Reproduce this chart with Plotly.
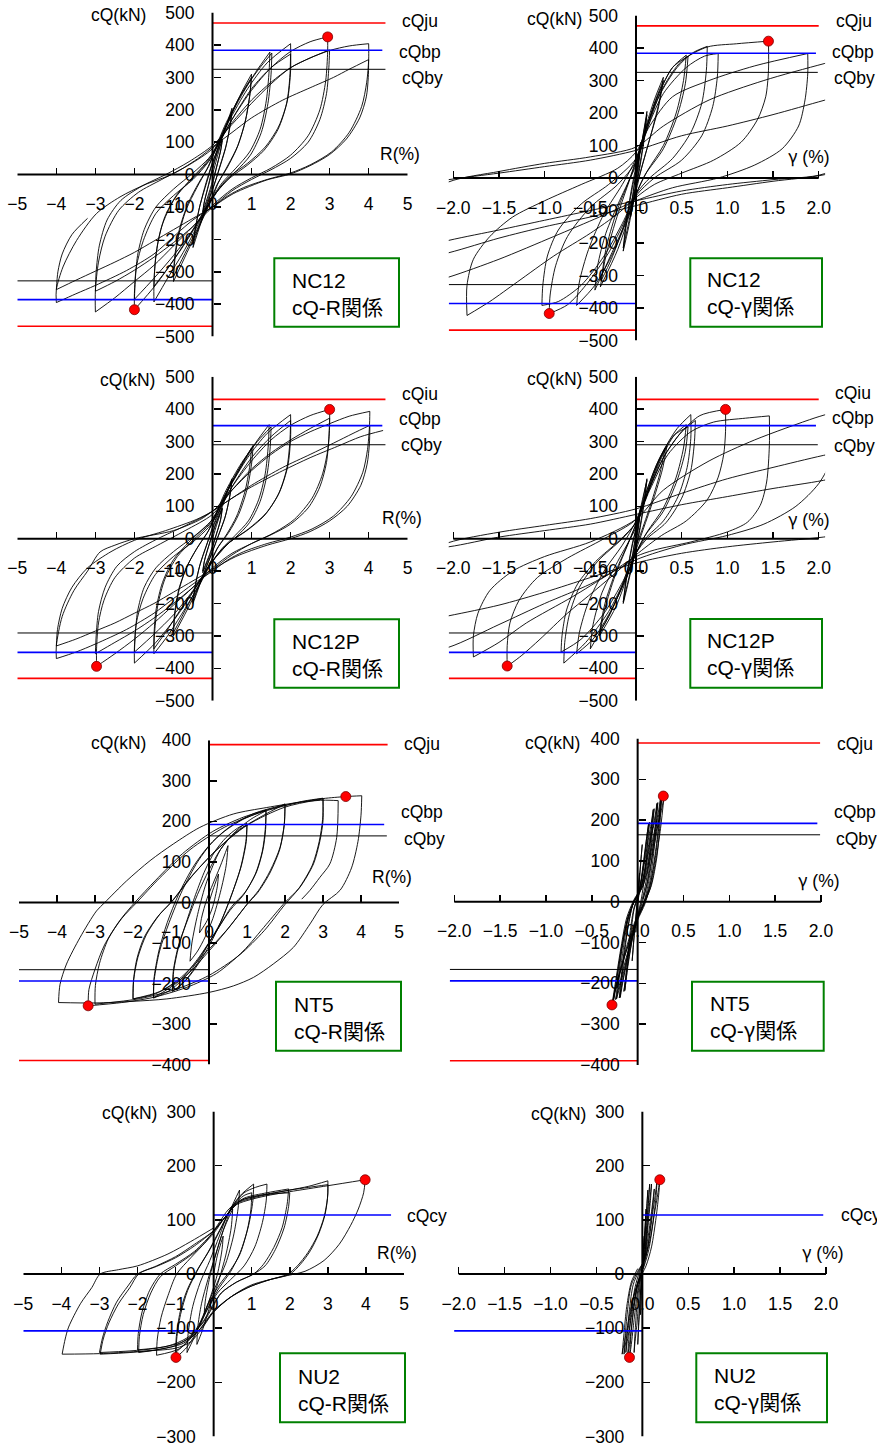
import plotly.graph_objects as go

W, H = 877, 1447

# ----------------------------------------------------------------- data
# Hysteresis histories: list of branches, each branch a list of (x, cQ) points.

NC12_R_CURVE = [
    [(0, 0), (0.1, 45), (0.25, 110)],
    [(0.25, 110), (0.22, 80), (0.1, 20), (0, -30), (-0.1, -70), (-0.25, -120)],
    [(-0.25, -120), (-0.22, -90), (-0.1, -30), (0, 20), (0.1, 60), (0.25, 105)],
    [(0.25, 105), (0.2, 70), (0.05, 0), (-0.1, -60), (-0.25, -115)],
    [(-0.25, -115), (-0.2, -80), (-0.05, -10), (0.05, 40), (0.2, 100), (0.35, 150), (0.5, 205)],
    [(0.5, 205), (0.46, 160), (0.35, 90), (0.2, 30), (0.05, -30), (-0.1, -80), (-0.3, -150), (-0.5, -225)],
    [(-0.5, -225), (-0.45, -180), (-0.35, -110), (-0.2, -40), (-0.05, 20), (0.1, 70), (0.3, 135), (0.5, 195)],
    [(0.5, 195), (0.45, 150), (0.33, 80), (0.18, 20), (0.03, -35), (-0.15, -95), (-0.33, -155), (-0.5, -215)],
    [(-0.5, -215), (-0.44, -165), (-0.32, -95), (-0.15, -25), (0, 35), (0.2, 100), (0.5, 190), (0.75, 255), (1.0, 310)],
    [(1.0, 310), (0.96, 250), (0.85, 170), (0.65, 90), (0.4, 30), (0.15, -25), (0, -70), (-0.3, -150), (-0.65, -240), (-1.0, -330)],
    [(-1.0, -330), (-0.97, -270), (-0.87, -190), (-0.68, -110), (-0.4, -40), (-0.15, 15), (0, 55), (0.3, 140), (0.65, 230), (1.0, 300)],
    [(1.0, 300), (0.95, 240), (0.83, 160), (0.62, 80), (0.37, 20), (0.12, -30), (0, -65), (-0.3, -145), (-0.65, -230), (-1.0, -315)],
    [(-1.0, -315), (-0.97, -255), (-0.85, -170), (-0.63, -90), (-0.35, -25), (-0.1, 25), (0, 55), (0.3, 140), (0.7, 235), (1.1, 315), (1.47, 378)],
    [(1.47, 378), (1.45, 320), (1.38, 230), (1.22, 140), (0.95, 70), (0.6, 20), (0.25, -25), (0, -70), (-0.35, -150), (-0.75, -240), (-1.15, -320), (-1.5, -393)],
    [(-1.5, -393), (-1.5, -340), (-1.45, -250), (-1.3, -160), (-1.0, -80), (-0.6, -20), (-0.25, 25), (0, 65), (0.35, 160), (0.75, 250), (1.15, 320), (1.52, 375)],
    [(1.52, 375), (1.5, 310), (1.42, 220), (1.25, 130), (0.97, 60), (0.6, 10), (0.25, -30), (0, -75), (-0.4, -155), (-0.8, -230), (-1.15, -290), (-1.5, -345)],
    [(-1.5, -345), (-1.48, -290), (-1.4, -210), (-1.22, -130), (-0.9, -60), (-0.5, -10), (-0.15, 35), (0, 60), (0.4, 160), (0.9, 265), (1.4, 345), (2.0, 404)],
    [(2.0, 404), (2.0, 320), (1.92, 230), (1.7, 150), (1.35, 85), (0.9, 35), (0.45, -5), (0.1, -55), (-0.1, -90), (-0.5, -170), (-0.95, -255), (-1.45, -340), (-2.0, -417)],
    [(-2.0, -417), (-2.0, -367), (-1.95, -285), (-1.77, -203), (-1.45, -120), (-1.0, -65), (-0.5, -15), (-0.1, 40), (0.1, 80), (0.5, 170), (1.0, 265), (1.5, 330), (2.0, 372)],
    [(2.0, 372), (1.98, 300), (1.9, 220), (1.68, 140), (1.32, 75), (0.88, 28), (0.45, -10), (0.1, -55), (-0.1, -90), (-0.5, -170), (-1.0, -250), (-1.5, -320), (-2.0, -385)],
    [(-2.0, -385), (-1.98, -330), (-1.92, -250), (-1.75, -170), (-1.45, -100), (-1.0, -45), (-0.5, 5), (-0.1, 50), (0.1, 85), (0.5, 170), (1.0, 260), (1.5, 330), (2.0, 380), (2.5, 410), (2.95, 425)],
    [(2.95, 425), (2.95, 380), (2.9, 290), (2.75, 200), (2.45, 120), (2.0, 60), (1.5, 20), (1.0, -10), (0.5, -45), (0, -95), (-0.5, -160), (-1.0, -220), (-1.5, -280), (-2.0, -330), (-2.5, -380), (-3.0, -424)],
    [(-3.0, -424), (-3.0, -360), (-2.92, -270), (-2.75, -190), (-2.4, -110), (-1.9, -55), (-1.3, -15), (-0.6, 30), (0, 80), (0.5, 160), (1.0, 230), (1.5, 285), (2.0, 330), (2.5, 360), (3.0, 385)],
    [(3.0, 385), (2.98, 330), (2.92, 250), (2.75, 170), (2.45, 100), (2.0, 50), (1.5, 15), (1.0, -15), (0.5, -50), (0, -100), (-0.5, -160), (-1.0, -210), (-1.5, -255), (-2.0, -295), (-2.5, -330), (-3.0, -360)],
    [(-3.0, -360), (-2.98, -300), (-2.9, -220), (-2.7, -140), (-2.35, -80), (-1.8, -35), (-1.2, 0), (-0.6, 40), (0, 90), (0.5, 155), (1.0, 220), (1.5, 280), (2.0, 330), (2.5, 360), (3.0, 383), (3.5, 397), (4.0, 404)],
    [(4.0, 404), (4.0, 355), (3.95, 285), (3.82, 210), (3.5, 130), (3.05, 70), (2.5, 30), (2.0, 5), (1.4, -15), (0.8, -40), (0.4, -65), (0, -100), (-0.5, -140), (-0.92, -183), (-1.5, -245), (-2.2, -296), (-3.0, -342), (-3.5, -368), (-4.0, -395)],
    [(-4.0, -395), (-4.0, -355), (-3.83, -285), (-3.48, -203), (-2.97, -120), (-2.37, -69), (-1.77, -33), (-1.0, 3), (-0.32, 54), (0, 85), (0.5, 130), (1.0, 175), (1.8, 230), (2.5, 268), (3.1, 300), (3.5, 325), (4.0, 355)],
    [(4.0, 355), (3.99, 300), (3.94, 240), (3.77, 175), (3.43, 110), (3.0, 62), (2.49, 27), (2.0, 2), (1.38, -17), (0.53, -59), (0, -100), (-0.5, -135), (-1.0, -170), (-1.5, -205), (-2.0, -240), (-2.5, -270), (-3.0, -298), (-3.5, -326), (-4.0, -355)],
    [(-4.0, -355), (-3.96, -300), (-3.85, -245), (-3.6, -185), (-3.2, -135)],
]

NC12_G_CURVE = [
    [(0, 0), (0.03, 60), (0.05, 110)],
    [(0.05, 110), (0.03, 40), (0, -30), (-0.03, -80), (-0.06, -120)],
    [(-0.06, -120), (-0.03, -50), (0, 20), (0.03, 70), (0.05, 105)],
    [(0.05, 105), (0.02, 30), (-0.02, -50), (-0.06, -115)],
    [(-0.06, -115), (-0.03, -40), (0.02, 40), (0.07, 120), (0.12, 205)],
    [(0.12, 205), (0.09, 120), (0.04, 30), (-0.02, -60), (-0.08, -150), (-0.14, -225)],
    [(-0.14, -225), (-0.1, -130), (-0.04, -30), (0.02, 50), (0.07, 120), (0.12, 195)],
    [(0.12, 195), (0.08, 110), (0.03, 20), (-0.03, -70), (-0.09, -150), (-0.14, -215)],
    [(-0.14, -215), (-0.1, -120), (-0.04, -20), (0.02, 60), (0.1, 150), (0.2, 240), (0.3, 310)],
    [(0.3, 310), (0.25, 230), (0.16, 130), (0.06, 30), (0, -40), (-0.08, -120), (-0.2, -220), (-0.39, -335)],
    [(-0.39, -335), (-0.33, -240), (-0.22, -130), (-0.1, -30), (0, 50), (0.1, 140), (0.2, 230), (0.3, 300)],
    [(0.3, 300), (0.24, 210), (0.14, 110), (0.04, 10), (-0.05, -70), (-0.15, -160), (-0.27, -250), (-0.38, -315)],
    [(-0.38, -315), (-0.33, -220), (-0.22, -110), (-0.08, -10), (0.02, 70), (0.12, 160), (0.25, 260), (0.4, 340), (0.55, 378)],
    [(0.55, 378), (0.52, 300), (0.44, 200), (0.3, 100), (0.12, 20), (0, -50), (-0.1, -130), (-0.25, -230), (-0.45, -330), (-0.65, -392)],
    [(-0.65, -392), (-0.62, -320), (-0.52, -220), (-0.35, -110), (-0.15, -20), (0, 60), (0.12, 160), (0.25, 260), (0.4, 340), (0.57, 375)],
    [(0.57, 375), (0.54, 290), (0.45, 190), (0.3, 90), (0.1, 10), (0, -50), (-0.12, -140), (-0.28, -240), (-0.45, -345)],
    [(-0.45, -345), (-0.42, -270), (-0.33, -170), (-0.18, -70), (0, 40), (0.1, 130), (0.25, 250), (0.45, 340), (0.62, 385), (0.78, 405)],
    [(0.78, 405), (0.77, 330), (0.72, 230), (0.6, 140), (0.4, 60), (0.15, 0), (0, -50), (-0.12, -130), (-0.3, -230), (-0.55, -330), (-0.75, -390), (-0.95, -417)],
    [(-0.95, -417), (-0.94, -360), (-0.88, -270), (-0.75, -180), (-0.5, -90), (-0.2, -20), (0, 50), (0.12, 150), (0.3, 260), (0.55, 340), (0.75, 375), (0.9, 383)],
    [(0.9, 383), (0.89, 310), (0.84, 220), (0.72, 130), (0.5, 55), (0.2, 0), (0, -55), (-0.15, -140), (-0.35, -240), (-0.6, -330), (-0.85, -380), (-1.03, -392)],
    [(-1.03, -392), (-1.02, -330), (-0.97, -240), (-0.85, -160), (-0.6, -80), (-0.3, -20), (0, 60), (0.12, 160), (0.3, 280), (0.5, 360), (0.78, 403), (1.1, 413), (1.45, 421)],
    [(1.45, 421), (1.45, 330), (1.42, 250), (1.33, 180), (1.15, 110), (0.85, 55), (0.5, 15), (0.2, -20), (0, -60), (-0.2, -110), (-0.5, -170), (-0.9, -240), (-1.3, -320), (-1.6, -380), (-1.85, -423)],
    [(-1.85, -423), (-1.85, -330), (-1.78, -250), (-1.6, -180), (-1.35, -120), (-1.0, -70), (-0.6, -20), (-0.2, 30), (0, 80), (0.15, 160), (0.4, 250), (0.8, 300), (1.3, 345), (1.88, 383)],
    [(1.88, 383), (1.88, 320), (1.85, 240), (1.78, 160), (1.6, 90), (1.3, 40), (0.9, 0), (0.4, -30), (0, -70), (-0.4, -120), (-0.9, -180), (-1.5, -250), (-2.05, -305), (-2.5, -340), (-3.0, -360)],
    [(-3.0, -360), (-2.95, -280), (-2.8, -190), (-2.5, -90), (-2.05, -12), (-1.5, 20), (-1.0, 45), (-0.5, 65), (0, 95), (0.3, 160), (0.8, 240), (1.4, 300), (2.06, 352), (2.6, 390), (3.2, 404)],
    [(3.2, 404), (3.18, 330), (3.1, 250), (2.9, 170), (2.5, 90), (2.06, 13), (1.5, -5), (1.0, -20), (0.5, -40), (0, -70), (-0.5, -100), (-1.0, -130), (-1.5, -160), (-2.05, -192), (-3.0, -260), (-4.0, -330), (-4.4, -395)],
    [(-4.4, -395), (-4.35, -300), (-4.1, -200), (-3.6, -110), (-2.9, -40), (-2.05, -5), (-1.5, 15), (-1.0, 35), (-0.5, 55), (0, 85), (0.5, 130), (1.0, 160), (1.5, 195), (2.06, 239), (2.6, 280), (3.4, 355)],
    [(3.4, 355), (3.38, 280), (3.3, 200), (3.0, 120), (2.5, 50), (2.06, 10), (1.5, -10), (1.0, -30), (0.5, -50), (0, -85), (-0.5, -120), (-1.0, -150), (-1.5, -185), (-2.05, -230), (-3.0, -290), (-4.5, -355)],
]

NC12P_R_CURVE = [
    [(0, 0), (0.1, 40), (0.25, 95)],
    [(0.25, 95), (0.21, 60), (0.08, 5), (-0.05, -45), (-0.25, -105)],
    [(-0.25, -105), (-0.21, -70), (-0.08, -15), (0.05, 35), (0.25, 92)],
    [(0.25, 92), (0.2, 55), (0.06, 0), (-0.08, -50), (-0.25, -100)],
    [(-0.25, -100), (-0.2, -65), (-0.05, -5), (0.1, 50), (0.3, 115), (0.5, 185)],
    [(0.5, 185), (0.45, 135), (0.33, 70), (0.17, 15), (0.0, -40), (-0.2, -100), (-0.35, -150), (-0.5, -200)],
    [(-0.5, -200), (-0.45, -150), (-0.33, -85), (-0.17, -25), (0, 30), (0.2, 90), (0.35, 140), (0.5, 180)],
    [(0.5, 180), (0.44, 130), (0.32, 65), (0.15, 10), (-0.02, -45), (-0.2, -100), (-0.35, -145), (-0.5, -195)],
    [(-0.5, -195), (-0.44, -145), (-0.32, -80), (-0.15, -20), (0, 35), (0.25, 110), (0.5, 175), (0.8, 240), (1.04, 288)],
    [(1.04, 288), (1.0, 230), (0.88, 150), (0.67, 75), (0.42, 20), (0.15, -25), (0, -60), (-0.3, -135), (-0.65, -220), (-1.0, -300)],
    [(-1.0, -300), (-0.97, -240), (-0.87, -165), (-0.67, -90), (-0.4, -30), (-0.15, 15), (0, 50), (0.3, 130), (0.65, 210), (1.0, 280)],
    [(1.0, 280), (0.95, 220), (0.83, 145), (0.62, 70), (0.37, 15), (0.12, -30), (0, -60), (-0.3, -130), (-0.65, -210), (-1.0, -290)],
    [(-1.0, -290), (-0.97, -230), (-0.85, -150), (-0.63, -80), (-0.35, -20), (-0.1, 25), (0, 50), (0.3, 130), (0.7, 215), (1.1, 295), (1.45, 352)],
    [(1.45, 352), (1.43, 290), (1.35, 200), (1.18, 120), (0.92, 55), (0.58, 10), (0.25, -30), (0, -70), (-0.35, -145), (-0.75, -225), (-1.15, -300), (-1.5, -355)],
    [(-1.5, -355), (-1.5, -300), (-1.44, -215), (-1.28, -135), (-1.0, -65), (-0.6, -10), (-0.25, 30), (0, 60), (0.35, 150), (0.75, 235), (1.15, 300), (1.5, 345)],
    [(1.5, 345), (1.48, 285), (1.4, 200), (1.22, 115), (0.95, 50), (0.6, 5), (0.25, -30), (0, -70), (-0.4, -145), (-0.8, -215), (-1.15, -280), (-1.5, -340)],
    [(-1.5, -340), (-1.48, -285), (-1.4, -205), (-1.22, -125), (-0.9, -55), (-0.5, -5), (-0.15, 35), (0, 55), (0.4, 150), (0.9, 250), (1.4, 325), (2.0, 383)],
    [(2.0, 383), (2.0, 310), (1.93, 225), (1.72, 145), (1.38, 80), (0.92, 30), (0.45, -10), (0.1, -55), (-0.1, -85), (-0.5, -165), (-0.95, -245), (-1.45, -320), (-2.0, -384)],
    [(-2.0, -384), (-2.0, -335), (-1.95, -260), (-1.78, -185), (-1.46, -110), (-1.0, -55), (-0.5, -10), (-0.1, 35), (0.1, 70), (0.5, 160), (1.0, 250), (1.5, 315), (2.0, 365)],
    [(2.0, 365), (1.98, 295), (1.9, 215), (1.68, 135), (1.32, 70), (0.88, 25), (0.45, -10), (0.1, -55), (-0.1, -85), (-0.5, -160), (-1.0, -235), (-1.5, -295), (-2.0, -350)],
    [(-2.0, -350), (-1.98, -300), (-1.92, -225), (-1.75, -150), (-1.45, -90), (-1.0, -40), (-0.5, 5), (-0.1, 45), (0.1, 80), (0.5, 160), (1.0, 240), (1.5, 305), (2.0, 350), (2.5, 380), (3.0, 399)],
    [(3.0, 399), (3.0, 350), (2.96, 280), (2.82, 200), (2.55, 125), (2.1, 60), (1.6, 20), (1.0, -15), (0.5, -45), (0, -90), (-0.5, -150), (-1.0, -205), (-1.5, -260), (-2.0, -310), (-2.5, -355), (-2.97, -394)],
    [(-2.97, -394), (-2.97, -340), (-2.92, -260), (-2.78, -190), (-2.5, -120), (-2.0, -60), (-1.4, -20), (-0.7, 25), (0, 75), (0.5, 150), (1.0, 215), (1.5, 265), (2.0, 305), (2.5, 340), (3.0, 372)],
    [(3.0, 372), (2.98, 310), (2.92, 235), (2.75, 160), (2.45, 95), (2.0, 45), (1.5, 12), (1.0, -15), (0.5, -50), (0, -95), (-0.5, -150), (-1.0, -200), (-1.5, -245), (-2.0, -285), (-2.5, -320), (-3.0, -355)],
    [(-3.0, -355), (-2.98, -300), (-2.92, -225), (-2.75, -150), (-2.45, -85), (-2.0, -40), (-1.4, 0), (-0.7, 40), (0, 85), (0.5, 150), (1.0, 210), (1.5, 260), (2.0, 300), (2.5, 330), (3.0, 355), (3.5, 378), (4.03, 393)],
    [(4.03, 393), (4.02, 345), (3.97, 275), (3.85, 205), (3.55, 130), (3.1, 70), (2.55, 30), (2.0, 5), (1.4, -15), (0.8, -40), (0.4, -65), (0, -100), (-0.5, -140), (-1.0, -185), (-1.5, -230), (-2.2, -280), (-3.0, -325), (-3.5, -350), (-4.0, -370)],
    [(-4.0, -370), (-4.0, -331), (-3.85, -240), (-3.55, -160), (-3.2, -100), (-2.88, -41), (-2.5, -20), (-2.0, 0), (-1.0, 25), (-0.3, 60), (0, 85), (0.5, 125), (1.0, 165), (1.8, 220), (2.5, 260), (3.1, 295), (3.6, 325), (4.03, 350)],
    [(4.03, 350), (4.02, 295), (3.96, 230), (3.8, 165), (3.45, 100), (3.0, 55), (2.5, 22), (2.0, 0), (1.4, -20), (0.6, -55), (0, -95), (-0.5, -130), (-1.0, -165), (-1.5, -200), (-2.0, -230), (-2.5, -260), (-3.0, -285), (-3.5, -310), (-4.0, -331)],
    [(-4.0, -331), (-3.97, -280), (-3.85, -215), (-3.6, -150), (-3.2, -90), (-2.6, -40), (-2.0, -5), (-1.2, 25), (-0.4, 60), (0, 85), (0.5, 125), (1.0, 160), (1.8, 210), (2.5, 250), (3.2, 285), (3.8, 315), (4.37, 334)],
]

NC12P_G_CURVE = [
    [(0, 0), (0.03, 50), (0.05, 95)],
    [(0.05, 95), (0.03, 40), (0.0, -20), (-0.03, -65), (-0.06, -105)],
    [(-0.06, -105), (-0.03, -45), (0, 15), (0.03, 60), (0.05, 92)],
    [(0.05, 92), (0.02, 30), (-0.02, -40), (-0.06, -100)],
    [(-0.06, -100), (-0.03, -35), (0.02, 40), (0.07, 110), (0.12, 185)],
    [(0.12, 185), (0.09, 110), (0.04, 25), (-0.02, -55), (-0.08, -130), (-0.14, -200)],
    [(-0.14, -200), (-0.1, -115), (-0.04, -20), (0.02, 55), (0.07, 120), (0.12, 180)],
    [(0.12, 180), (0.08, 100), (0.03, 15), (-0.03, -65), (-0.09, -135), (-0.14, -195)],
    [(-0.14, -195), (-0.1, -110), (-0.04, -15), (0.03, 60), (0.12, 150), (0.22, 225), (0.34, 288)],
    [(0.34, 288), (0.29, 215), (0.19, 120), (0.08, 30), (0, -35), (-0.1, -120), (-0.22, -210), (-0.4, -300)],
    [(-0.4, -300), (-0.34, -215), (-0.23, -115), (-0.1, -25), (0, 45), (0.1, 125), (0.21, 210), (0.32, 280)],
    [(0.32, 280), (0.26, 200), (0.16, 105), (0.05, 15), (-0.05, -60), (-0.16, -150), (-0.28, -230), (-0.4, -290)],
    [(-0.4, -290), (-0.34, -200), (-0.22, -100), (-0.08, -10), (0.02, 60), (0.14, 150), (0.28, 250), (0.42, 320), (0.55, 352)],
    [(0.55, 352), (0.52, 280), (0.44, 190), (0.3, 95), (0.12, 20), (0, -45), (-0.12, -130), (-0.28, -225), (-0.47, -310), (-0.65, -355)],
    [(-0.65, -355), (-0.62, -290), (-0.52, -195), (-0.35, -100), (-0.15, -20), (0, 55), (0.12, 150), (0.26, 250), (0.42, 320), (0.57, 345)],
    [(0.57, 345), (0.54, 270), (0.45, 180), (0.3, 85), (0.1, 10), (0, -45), (-0.13, -135), (-0.3, -240), (-0.5, -340)],
    [(-0.5, -340), (-0.47, -265), (-0.37, -165), (-0.2, -70), (0, 35), (0.12, 140), (0.28, 260), (0.45, 340), (0.6, 383)],
    [(0.6, 383), (0.6, 310), (0.56, 220), (0.46, 130), (0.3, 55), (0.1, 0), (0, -45), (-0.12, -125), (-0.3, -225), (-0.55, -320), (-0.79, -384)],
    [(-0.79, -384), (-0.78, -320), (-0.73, -235), (-0.62, -150), (-0.42, -70), (-0.15, 0), (0, 50), (0.14, 150), (0.32, 260), (0.5, 330), (0.65, 365)],
    [(0.65, 365), (0.64, 300), (0.6, 210), (0.5, 125), (0.33, 50), (0.12, 0), (0, -45), (-0.14, -130), (-0.35, -230), (-0.6, -310), (-0.82, -350)],
    [(-0.82, -350), (-0.81, -300), (-0.76, -220), (-0.64, -140), (-0.44, -70), (-0.18, -5), (0, 50), (0.14, 150), (0.3, 250), (0.5, 330), (0.7, 380), (0.98, 399)],
    [(0.98, 399), (0.98, 330), (0.96, 260), (0.9, 190), (0.78, 120), (0.55, 55), (0.28, 10), (0, -50), (-0.2, -100), (-0.45, -160), (-0.75, -230), (-1.05, -310), (-1.25, -360), (-1.41, -394)],
    [(-1.41, -394), (-1.41, -330), (-1.38, -260), (-1.28, -190), (-1.08, -120), (-0.75, -60), (-0.35, 0), (0, 60), (0.15, 150), (0.35, 260), (0.6, 330), (0.85, 360), (1.2, 372), (1.46, 379)],
    [(1.46, 379), (1.46, 288), (1.43, 175), (1.36, 103), (1.22, 51), (1.0, 21), (0.6, -10), (0.2, -35), (0, -55), (-0.3, -110), (-0.7, -180), (-1.2, -260), (-1.5, -320), (-1.78, -365)],
    [(-1.78, -365), (-1.78, -300), (-1.73, -230), (-1.6, -160), (-1.35, -100), (-1.0, -55), (-0.5, -10), (0, 60), (0.3, 150), (0.8, 240), (1.3, 305), (1.96, 373), (2.2, 393)],
    [(2.2, 393), (2.2, 330), (2.15, 250), (2.0, 170), (1.75, 100), (1.4, 45), (1.0, 10), (0.5, -20), (0, -65), (-0.5, -140), (-1.0, -200), (-1.5, -265), (-2.05, -335), (-2.5, -360), (-3.0, -370)],
    [(-3.0, -370), (-2.98, -300), (-2.9, -220), (-2.7, -140), (-2.4, -60), (-2.05, -12), (-1.5, 20), (-1.0, 41), (-0.5, 62), (0, 92), (0.5, 140), (1.0, 185), (1.5, 220), (2.05, 257), (2.8, 300), (3.6, 350)],
    [(3.6, 350), (3.58, 280), (3.45, 200), (3.2, 120), (2.8, 60), (2.4, 20), (2.05, 5), (1.5, -10), (1.0, -25), (0.5, -45), (0, -75), (-0.5, -120), (-1.0, -165), (-1.5, -205), (-2.05, -238), (-3.0, -290), (-3.8, -331)],
    [(-3.8, -331), (-3.78, -270), (-3.65, -190), (-3.3, -100), (-2.7, -40), (-2.05, -25), (-1.5, 5), (-1.0, 25), (-0.5, 45), (0, 75), (0.5, 105), (1.0, 130), (1.5, 155), (2.05, 180), (2.6, 215), (3.0, 240)],
]

NT5_R_CURVE = [
    [(0, 0), (0.1, 30), (0.25, 70)],
    [(0.25, 70), (0.22, 40), (0.1, -10), (-0.05, -45), (-0.25, -75)],
    [(-0.25, -75), (-0.2, -40), (-0.05, 10), (0.1, 45), (0.3, 90), (0.5, 140)],
    [(0.5, 140), (0.45, 90), (0.3, 25), (0.1, -40), (-0.1, -85), (-0.3, -120), (-0.5, -145)],
    [(-0.5, -145), (-0.45, -100), (-0.3, -30), (-0.1, 40), (0.1, 90), (0.3, 130), (0.55, 160), (0.8, 180), (1.0, 192)],
    [(1.0, 192), (0.98, 150), (0.85, 90), (0.6, 20), (0.35, -40), (0.1, -90), (-0.2, -140), (-0.5, -180), (-0.75, -205), (-0.95, -218)],
    [(-0.95, -218), (-0.93, -170), (-0.8, -110), (-0.6, -50), (-0.35, 20), (-0.1, 80), (0.15, 125), (0.45, 160), (0.75, 183), (1.0, 195)],
    [(1.0, 195), (0.97, 150), (0.83, 85), (0.58, 15), (0.3, -50), (0, -100), (-0.3, -150), (-0.6, -190), (-0.96, -220)],
    [(-0.96, -220), (-0.94, -170), (-0.8, -105), (-0.55, -40), (-0.3, 20), (0, 80), (0.3, 130), (0.7, 175), (1.1, 205), (1.5, 226)],
    [(1.5, 226), (1.49, 180), (1.42, 130), (1.25, 75), (0.95, 25), (0.6, -10), (0.2, -70), (-0.3, -140), (-0.8, -195), (-1.46, -235)],
    [(-1.46, -235), (-1.45, -190), (-1.32, -120), (-1.1, -50), (-0.8, 20), (-0.4, 90), (0, 140), (0.4, 175), (0.9, 205), (1.5, 228)],
    [(1.5, 228), (1.48, 180), (1.4, 125), (1.22, 70), (0.92, 20), (0.55, -20), (0.1, -85), (-0.5, -170), (-1.0, -215), (-1.46, -236)],
    [(-1.46, -236), (-1.44, -190), (-1.3, -120), (-1.05, -50), (-0.7, 30), (-0.3, 100), (0.1, 150), (0.6, 190), (1.2, 220), (2.0, 241)],
    [(2.0, 241), (1.98, 193), (1.87, 136), (1.61, 78), (1.3, 29), (1.04, 0), (0.5, -65), (0, -120), (-0.6, -180), (-1.3, -220), (-2.0, -238)],
    [(-2.0, -238), (-1.99, -195), (-1.9, -140), (-1.7, -85), (-1.35, -35), (-1.0, 0), (-0.5, 60), (0.1, 120), (0.9, 185), (2.0, 243)],
    [(2.0, 243), (1.98, 190), (1.86, 130), (1.6, 72), (1.28, 24), (1.0, -5), (0.45, -70), (-0.1, -125), (-0.8, -190), (-1.4, -225), (-2.0, -238)],
    [(-2.0, -238), (-1.98, -190), (-1.87, -135), (-1.65, -80), (-1.3, -30), (-0.95, 5), (-0.4, 70), (0.2, 130), (1.0, 190), (2.0, 235), (3.0, 255)],
    [(3.0, 255), (3.0, 201), (2.92, 152), (2.75, 95), (2.39, 37), (2.0, 0), (1.5, -55), (0.9, -120), (0.2, -175), (-0.6, -210), (-1.5, -235), (-2.3, -247), (-3.18, -255)],
    [(-3.18, -255), (-3.16, -215), (-3.0, -165), (-2.75, -105), (-2.35, -45), (-1.95, 0), (-1.4, 55), (-0.7, 120), (0.1, 175), (0.9, 210), (1.8, 235), (2.5, 250), (3.0, 257)],
    [(3.0, 257), (2.99, 205), (2.9, 150), (2.72, 92), (2.36, 34), (2.0, -5), (1.45, -70), (0.8, -130), (0, -180), (-0.8, -212), (-1.8, -237), (-3.0, -251)],
    [(-3.0, -251), (-2.99, -205), (-2.88, -150), (-2.65, -90), (-2.3, -40), (-1.9, 0), (-1.3, 60), (-0.5, 130), (0.4, 185), (1.3, 220), (2.3, 245), (3.0, 256), (3.6, 261), (4.02, 263)],
    [(4.02, 263), (4.0, 215), (3.92, 150), (3.75, 85), (3.45, 30), (3.0, -5), (2.66, -53), (2.22, -111), (1.69, -152), (1.17, -185), (0.64, -206), (0, -222), (-1.11, -238), (-2.0, -244), (-3.0, -248), (-3.96, -247)],
    [(-3.96, -247), (-3.92, -202), (-3.75, -152), (-3.39, -86), (-2.96, -21), (-2.74, 0), (-2.17, 53), (-1.55, 103), (-0.94, 144), (-0.24, 185), (0.64, 218), (1.52, 234), (2.39, 247), (3.0, 252), (3.4, 251)],
    [(3.4, 251), (3.36, 160), (3.18, 95), (2.92, 62), (2.65, 29), (2.44, 8)],
]

NT5_G_CURVE = [
    [(0, 0), (0.01, 35), (0.02, 70)],
    [(0.02, 70), (0.01, 40), (-0.005, 0), (-0.01, -35), (-0.02, -75)],
    [(-0.02, -75), (-0.01, -35), (0.005, 10), (0.02, 60), (0.035, 100), (0.05, 140)],
    [(0.05, 140), (0.035, 100), (0.015, 40), (-0.01, -10), (-0.03, -60), (-0.045, -105), (-0.06, -145)],
    [(-0.06, -145), (-0.045, -100), (-0.02, -40), (0.01, 10), (0.04, 50), (0.07, 100), (0.1, 160), (0.12, 192)],
    [(0.12, 192), (0.1, 160), (0.07, 110), (0.035, 50), (0, 10), (-0.04, -20), (-0.07, -70), (-0.1, -130), (-0.12, -180), (-0.14, -218)],
    [(-0.14, -218), (-0.12, -180), (-0.08, -120), (-0.03, -60), (0.02, -15), (0.05, 20), (0.08, 70), (0.1, 120), (0.115, 165), (0.13, 195)],
    [(0.13, 195), (0.11, 165), (0.08, 115), (0.04, 55), (0.005, 15), (-0.04, -15), (-0.08, -70), (-0.11, -135), (-0.13, -185), (-0.15, -220)],
    [(-0.15, -220), (-0.13, -185), (-0.09, -130), (-0.04, -70), (0.02, -20), (0.06, 15), (0.1, 60), (0.13, 120), (0.15, 180), (0.17, 226)],
    [(0.17, 226), (0.15, 195), (0.11, 145), (0.06, 75), (0.01, 25), (-0.05, -5), (-0.1, -55), (-0.14, -120), (-0.17, -180), (-0.19, -235)],
    [(-0.19, -235), (-0.16, -195), (-0.11, -140), (-0.05, -80), (0.01, -30), (0.06, 5), (0.11, 55), (0.14, 115), (0.16, 175), (0.18, 228)],
    [(0.18, 228), (0.16, 195), (0.12, 140), (0.07, 70), (0.02, 20), (-0.05, -5), (-0.1, -55), (-0.15, -125), (-0.18, -185), (-0.2, -236)],
    [(-0.2, -236), (-0.17, -200), (-0.12, -145), (-0.06, -85), (0.01, -35), (0.07, 0), (0.12, 50), (0.16, 115), (0.19, 180), (0.21, 241)],
    [(0.21, 241), (0.19, 210), (0.14, 155), (0.08, 80), (0.02, 25), (-0.05, -5), (-0.11, -50), (-0.16, -120), (-0.2, -185), (-0.23, -238)],
    [(-0.23, -238), (-0.19, -205), (-0.13, -150), (-0.07, -90), (0.0, -40), (0.07, -5), (0.13, 45), (0.17, 110), (0.2, 180), (0.22, 243)],
    [(0.22, 243), (0.2, 212), (0.15, 160), (0.09, 85), (0.03, 30), (-0.04, 0), (-0.11, -45), (-0.17, -115), (-0.21, -185), (-0.24, -240)],
    [(-0.24, -240), (-0.2, -205), (-0.14, -150), (-0.07, -95), (0.0, -45), (0.08, -5), (0.14, 45), (0.19, 115), (0.23, 190), (0.25, 255)],
    [(0.25, 255), (0.23, 225), (0.18, 170), (0.11, 95), (0.04, 35), (-0.04, 5), (-0.12, -40), (-0.18, -110), (-0.23, -180), (-0.28, -253)],
    [(-0.28, -253), (-0.25, -220), (-0.19, -170), (-0.12, -110), (-0.04, -55), (0.05, -10), (0.13, 35), (0.19, 105), (0.23, 180), (0.26, 257)],
    [(0.26, 257), (0.24, 225), (0.19, 170), (0.12, 95), (0.05, 35), (-0.03, 5), (-0.11, -40), (-0.17, -110), (-0.22, -180), (-0.27, -251)],
    [(-0.27, -251), (-0.24, -215), (-0.18, -165), (-0.11, -110), (-0.03, -55), (0.06, -10), (0.14, 35), (0.2, 105), (0.25, 180), (0.29, 263)],
    [(0.29, 263), (0.27, 235), (0.21, 180), (0.14, 105), (0.06, 40), (-0.02, 8), (-0.1, -35), (-0.17, -105), (-0.22, -175), (-0.27, -247)],
    [(-0.27, -247), (-0.24, -210), (-0.18, -160), (-0.1, -105), (-0.02, -50), (0.07, -5), (0.15, 40), (0.21, 110), (0.24, 180), (0.26, 251)],
    [(0.26, 251), (0.24, 215), (0.2, 160), (0.15, 100), (0.1, 40), (0.06, 8)],
]

NU2_R_CURVE = [
    [(0, 0), (0.1, 35), (0.25, 70)],
    [(0.25, 70), (0.22, 45), (0.1, 0), (-0.05, -35), (-0.25, -75)],
    [(-0.25, -75), (-0.22, -50), (-0.1, -5), (0.05, 35), (0.25, 80), (0.5, 120)],
    [(0.5, 120), (0.46, 85), (0.32, 35), (0.12, -15), (-0.1, -60), (-0.3, -105), (-0.44, -130)],
    [(-0.44, -130), (-0.42, -100), (-0.32, -55), (-0.15, -10), (0.05, 35), (0.25, 80), (0.45, 120), (0.68, 155)],
    [(0.68, 155), (0.64, 120), (0.52, 70), (0.32, 20), (0.1, -15), (-0.15, -55), (-0.4, -100), (-0.7, -145)],
    [(-0.7, -145), (-0.67, -110), (-0.55, -60), (-0.35, -15), (-0.1, 25), (0.15, 70), (0.4, 115), (0.7, 145), (1.05, 166)],
    [(1.05, 166), (1.03, 135), (0.92, 90), (0.7, 40), (0.45, 5), (0.15, -25), (-0.1, -55), (-0.4, -100), (-0.7, -135), (-0.99, -154)],
    [(-0.99, -154), (-0.97, -120), (-0.87, -75), (-0.68, -30), (-0.4, 10), (-0.1, 45), (0.2, 85), (0.5, 125), (0.8, 145), (1.0, 150)],
    [(1.0, 150), (0.98, 120), (0.88, 80), (0.68, 35), (0.42, 5), (0.15, -20), (-0.1, -50), (-0.4, -95), (-0.7, -125), (-1.0, -145)],
    [(-1.0, -145), (-0.98, -115), (-0.88, -70), (-0.7, -30), (-0.45, 5), (-0.15, 40), (0.15, 80), (0.45, 120), (0.8, 150), (1.1, 160), (1.4, 166)],
    [(1.4, 166), (1.38, 135), (1.28, 95), (1.08, 50), (0.8, 15), (0.45, -10), (0.1, -35), (-0.2, -70), (-0.5, -110), (-0.9, -138), (-1.5, -150)],
    [(-1.5, -150), (-1.48, -120), (-1.38, -80), (-1.2, -40), (-0.97, 0), (-0.6, 30), (-0.2, 60), (0.1, 90), (0.4, 120), (0.8, 140), (1.4, 150), (1.97, 157)],
    [(1.97, 157), (1.93, 129), (1.8, 86), (1.58, 49), (1.31, 18), (1.05, 0), (0.6, -15), (0.2, -35), (0, -55), (-0.3, -90), (-0.6, -115), (-1.0, -132), (-1.5, -140), (-1.97, -145)],
    [(-1.97, -145), (-1.95, -115), (-1.85, -75), (-1.65, -35), (-1.4, -5), (-1.0, 15), (-0.5, 40), (0, 75), (0.3, 105), (0.7, 135), (1.2, 145), (2.0, 150)],
    [(2.0, 150), (1.97, 125), (1.85, 85), (1.62, 45), (1.35, 15), (1.05, 0), (0.6, -15), (0.2, -35), (0, -58), (-0.3, -92), (-0.7, -118), (-1.2, -133), (-2.0, -140)],
    [(-2.0, -140), (-1.98, -110), (-1.88, -70), (-1.68, -30), (-1.4, 0), (-1.0, 18), (-0.5, 42), (0, 78), (0.3, 105), (0.7, 135), (1.2, 145), (2.0, 155), (2.5, 162), (3.0, 172)],
    [(3.0, 172), (3.0, 148), (2.93, 111), (2.76, 74), (2.54, 43), (2.28, 18), (2.01, 0), (1.5, -10), (1.0, -22), (0.5, -40), (0, -68), (-0.4, -105), (-0.8, -128), (-1.5, -140), (-2.2, -145), (-2.98, -148)],
    [(-2.98, -148), (-2.9, -120), (-2.75, -90), (-2.5, -55), (-2.2, -25), (-1.97, 0), (-1.5, 15), (-1.0, 32), (-0.5, 55), (0, 80), (0.3, 105), (0.6, 130), (1.0, 140), (1.5, 148), (2.0, 155), (2.5, 160), (3.0, 165)],
    [(3.0, 165), (2.99, 140), (2.9, 105), (2.72, 70), (2.48, 40), (2.2, 15), (1.95, 0), (1.4, -12), (0.9, -25), (0.4, -45), (0, -70), (-0.4, -105), (-0.8, -125), (-1.5, -137), (-2.2, -142), (-3.0, -145)],
    [(-3.0, -145), (-2.92, -118), (-2.78, -88), (-2.55, -52), (-2.25, -22), (-2.0, 0), (-1.5, 14), (-1.0, 30), (-0.5, 52), (0, 80), (0.3, 105), (0.6, 128), (1.0, 138), (1.5, 146), (2.0, 152), (3.0, 163), (3.98, 174)],
    [(3.98, 174), (3.94, 150), (3.8, 120), (3.6, 90), (3.3, 55), (2.9, 25), (2.4, 5), (1.8, -5), (1.0, -20), (0.5, -40), (0, -70), (-0.3, -100), (-0.6, -125), (-1.0, -137), (-2.0, -143), (-3.0, -147), (-3.98, -148)],
    [(-3.98, -148), (-3.9, -120), (-3.81, -98), (-3.5, -55), (-3.2, -25), (-2.98, 0), (-2.5, 8), (-2.0, 15), (-1.2, 37), (-0.6, 60), (0, 85)],
]

NU2_G_CURVE = [
    [(0, 0), (0.01, 35), (0.02, 70)],
    [(0.02, 70), (0.01, 35), (-0.005, 0), (-0.012, -40), (-0.02, -75)],
    [(-0.02, -75), (-0.012, -35), (0.0, 10), (0.015, 50), (0.03, 90), (0.04, 120)],
    [(0.04, 120), (0.03, 85), (0.01, 35), (-0.01, -5), (-0.025, -50), (-0.04, -95), (-0.05, -130)],
    [(-0.05, -130), (-0.04, -90), (-0.02, -35), (0.0, 5), (0.02, 40), (0.035, 90), (0.05, 130), (0.06, 155)],
    [(0.06, 155), (0.05, 125), (0.03, 70), (0.005, 20), (-0.02, -10), (-0.04, -50), (-0.06, -95), (-0.08, -125), (-0.09, -145)],
    [(-0.09, -145), (-0.08, -110), (-0.06, -60), (-0.03, -15), (0.0, 10), (0.03, 40), (0.05, 90), (0.065, 135), (0.08, 166)],
    [(0.08, 166), (0.07, 140), (0.05, 95), (0.025, 40), (0, 10), (-0.04, -20), (-0.07, -55), (-0.1, -100), (-0.12, -130), (-0.14, -154)],
    [(-0.14, -154), (-0.125, -115), (-0.1, -70), (-0.06, -25), (-0.02, 5), (0.02, 30), (0.05, 75), (0.075, 125), (0.1, 166)],
    [(0.1, 166), (0.09, 140), (0.065, 95), (0.035, 40), (0, 10), (-0.05, -20), (-0.09, -60), (-0.12, -100), (-0.14, -130), (-0.16, -150)],
    [(-0.16, -150), (-0.145, -115), (-0.12, -70), (-0.08, -25), (-0.03, 5), (0.02, 25), (0.06, 65), (0.1, 115), (0.13, 157)],
    [(0.13, 157), (0.12, 135), (0.09, 90), (0.05, 40), (0.01, 12), (-0.05, -18), (-0.1, -60), (-0.14, -100), (-0.165, -125), (-0.18, -145)],
    [(-0.18, -145), (-0.165, -110), (-0.14, -65), (-0.1, -20), (-0.04, 5), (0.02, 25), (0.07, 60), (0.11, 110), (0.14, 145), (0.16, 172)],
    [(0.16, 172), (0.15, 145), (0.12, 100), (0.07, 45), (0.02, 15), (-0.05, -15), (-0.11, -55), (-0.15, -95), (-0.18, -125), (-0.2, -148)],
    [(-0.2, -148), (-0.185, -110), (-0.16, -65), (-0.12, -20), (-0.05, 5), (0.02, 25), (0.08, 60), (0.13, 110), (0.17, 150), (0.19, 174)],
    [(0.19, 174), (0.18, 150), (0.15, 105), (0.1, 50), (0.04, 15), (-0.04, -12), (-0.11, -50), (-0.16, -95), (-0.2, -130), (-0.22, -148)],
    [(-0.22, -148), (-0.2, -110), (-0.17, -60), (-0.12, -15), (-0.05, 10)],
]

# maximum-strength points (red dots)
NC12_R_MAX = [(2.95, 425), (-2.0, -417)]
NC12_G_MAX = [(1.45, 421), (-0.95, -417)]
NC12P_R_MAX = [(3.0, 399), (-2.97, -394)]
NC12P_G_MAX = [(0.98, 399), (-1.41, -393)]
NT5_R_MAX = [(3.6, 261), (-3.18, -255)]
NT5_G_MAX = [(0.28, 259), (-0.28, -253)]
NU2_R_MAX = [(3.98, 174), (-0.99, -154)]
NU2_G_MAX = [(0.19, 174), (-0.14, -154)]

# calculated strengths (kN): label, positive value, negative value
NC12_LEVELS = [("cQju", 468, -468), ("cQbp", 384, -386), ("cQby", 325, -328)]
NC12P_LEVELS = [("cQiu", 430, -431), ("cQbp", 349, -351), ("cQby", 290, -291)]
NT5_LEVELS = [("cQju", 389, -390), ("cQbp", 192, -194), ("cQby", 164, -166)]
NU2_LEVELS = [("cQcy", 109, -105)]

# tick values
R_TICKS = [-5, -4, -3, -2, -1, 0, 1, 2, 3, 4, 5]
G_TICKS = [-2.0, -1.5, -1.0, -0.5, 0.0, 0.5, 1.0, 1.5, 2.0]
Q500_TICKS = [-500, -400, -300, -200, -100, 0, 100, 200, 300, 400, 500]
Q400_TICKS = [-400, -300, -200, -100, 0, 100, 200, 300, 400]
Q300_TICKS = [-300, -200, -100, 0, 100, 200, 300]

SPECIMENS = ["NC12", "NC12", "NC12P", "NC12P", "NT5", "NT5", "NU2", "NU2"]

# ----------------------------------------------------------------- styling / layout
FONT = "Liberation Sans, Arial, Noto Sans CJK JP, sans-serif"
TICK_SIZE = 17.5
LEVEL_COLORS = {"cQju": "#ff0000", "cQiu": "#ff0000", "cQbp": "#0000ff",
                "cQby": "#000000", "cQcy": "#0000ff"}
LEVEL_WIDTHS = {"cQju": 1.6, "cQiu": 1.6, "cQbp": 1.6, "cQby": 1.0, "cQcy": 1.6}

GAMMA = '<span style="font-family:Noto Sans CJK JP">γ</span>'

# geometry in page pixels: (x at first tick, x at last tick), (y px at top tick, y px at bottom tick)
PANELS = [
    dict(curve=NC12_R_CURVE, dots=NC12_R_MAX, levels=NC12_LEVELS, xt=R_TICKS, yt=Q500_TICKS,
         xr=(-5, 5), xpx=(17.3, 407.7), ypx=(12.6, 336.6), neg_end=-5.0, pos_end=[4.43, 4.35, 4.43],
         xlab="R(%)", xlab_pos=(400, 154), qlab=(148, 15),
         lvl_lab=[(400, 21), (397, 52), (400, 78)], box=(274.3, 258.3, 399, 326.7), box_text=(290, 294),
         sub="cQ-R関係"),
    dict(curve=NC12_G_CURVE, dots=NC12_G_MAX, levels=NC12_LEVELS, xt=G_TICKS, yt=Q500_TICKS,
         xr=(-2.05, 2.07), xpx=(453.3, 818.7), ypx=(15.5, 340.5), neg_end=-2.05, pos_end=[2.0, 1.97, 1.99],
         xlab=GAMMA + " (%)", xlab_pos=(808.7, 155), qlab=(583.7, 19),
         lvl_lab=[(833.7, 21), (829.7, 52), (832, 78)], box=(690.3, 258.3, 822, 326.7), box_text=(705.3, 294),
         sub="cQ-" + GAMMA + "関係"),
    dict(curve=NC12P_R_CURVE, dots=NC12P_R_MAX, levels=NC12P_LEVELS, xt=R_TICKS, yt=Q500_TICKS,
         xr=(-5, 5), xpx=(17.3, 407.7), ypx=(376.7, 700.7), neg_end=-5.0, pos_end=[4.43, 4.35, 4.43],
         xlab="R(%)", xlab_pos=(401.7, 518.3), qlab=(156.7, 380),
         lvl_lab=[(400, 394), (397, 419), (399.3, 445)], box=(274.3, 619.3, 399, 687.7), box_text=(290, 655),
         sub="cQ-R関係"),
    dict(curve=NC12P_G_CURVE, dots=NC12P_G_MAX, levels=NC12P_LEVELS, xt=G_TICKS, yt=Q500_TICKS,
         xr=(-2.05, 2.07), xpx=(453.3, 818.7), ypx=(376.7, 700.7), neg_end=-2.05, pos_end=[2.0, 1.97, 1.99],
         xlab=GAMMA + " (%)", xlab_pos=(808.7, 518.3), qlab=(583.7, 379),
         lvl_lab=[(833, 393.3), (829.7, 418.3), (832, 446)], box=(690.3, 619, 822, 687.7), box_text=(705.3, 655),
         sub="cQ-" + GAMMA + "関係"),
    dict(curve=NT5_R_CURVE, dots=NT5_R_MAX, levels=NT5_LEVELS, xt=R_TICKS, yt=Q400_TICKS,
         xr=(-5, 5), xpx=(19, 399), ypx=(740.2, 1064.6), neg_end=-5.0, pos_end=[4.7, 4.61, 4.68],
         xlab="R(%)", xlab_pos=(391.7, 876.7), qlab=(148.3, 743),
         lvl_lab=[(401.7, 744.3), (399.3, 811.7), (401.7, 839.3)], box=(276, 981.7, 401, 1050.7), box_text=(291.7, 1018),
         sub="cQ-R関係"),
    dict(curve=NT5_G_CURVE, dots=NT5_G_MAX, levels=NT5_LEVELS, xt=G_TICKS, yt=Q400_TICKS,
         xr=(-2.05, 2.07), xpx=(454.3, 821), ypx=(738.5, 1064.9), neg_end=-2.05, pos_end=[1.99, 1.96, 1.99],
         xlab=GAMMA + " (%)", xlab_pos=(818.7, 880), qlab=(582, 743),
         lvl_lab=[(835.3, 744.3), (832, 811.7), (834.3, 839.3)], box=(692, 981.7, 823.7, 1050.7), box_text=(707.7, 1018),
         sub="cQ-" + GAMMA + "関係"),
    dict(curve=NU2_R_CURVE, dots=NU2_R_MAX, levels=NU2_LEVELS, xt=R_TICKS, yt=Q300_TICKS,
         xr=(-5, 5), xpx=(23.3, 404), ypx=(1111.5, 1436.5), neg_end=-5.0, pos_end=[4.66],
         xlab="R(%)", xlab_pos=(396.7, 1253.3), qlab=(159.3, 1113),
         lvl_lab=[(405, 1216)], box=(280, 1353.3, 405, 1422.3), box_text=(296, 1390),
         sub="cQ-R関係"),
    dict(curve=NU2_G_CURVE, dots=NU2_G_MAX, levels=NU2_LEVELS, xt=G_TICKS, yt=Q300_TICKS,
         xr=(-2.05, 2.07), xpx=(458.7, 826), ypx=(1111.5, 1436.5), neg_end=-2.05, pos_end=[1.97],
         xlab=GAMMA + " (%)", xlab_pos=(823, 1251.7), qlab=(587.7, 1114),
         lvl_lab=[(838.7, 1215)], box=(696.3, 1353.3, 827, 1422.3), box_text=(712, 1390),
         sub="cQ-" + GAMMA + "関係"),
]


def px2paper(x, y):
    """page pixel -> paper fraction (the figure fills the page, body margin removed)."""
    return x / W, 1 - y / H


fig = go.Figure()
layout = dict(width=W, height=H, margin=dict(l=0, r=0, t=0, b=0, pad=0, autoexpand=False),
              paper_bgcolor="white", plot_bgcolor="rgba(0,0,0,0)", showlegend=False,
              font=dict(family=FONT, size=TICK_SIZE, color="black"))
shapes, annotations = [], []

for i, p in enumerate(PANELS, start=1):
    xs = "x" if i == 1 else f"x{i}"
    ys = "y" if i == 1 else f"y{i}"
    xa = "xaxis" if i == 1 else f"xaxis{i}"
    ya = "yaxis" if i == 1 else f"yaxis{i}"

    # domains from the tick pixel positions
    t0, t1 = p["xt"][0], p["xt"][-1]
    sx = (p["xpx"][1] - p["xpx"][0]) / (t1 - t0)
    left = p["xpx"][0] + (p["xr"][0] - t0) * sx
    right = p["xpx"][0] + (p["xr"][1] - t0) * sx
    xdom = [px2paper(left, 0)[0], px2paper(right, 0)[0]]
    yr = (p["yt"][0], p["yt"][-1])
    ydom = [px2paper(0, p["ypx"][1])[1], px2paper(0, p["ypx"][0])[1]]
    x_zero = xdom[0] + (0 - p["xr"][0]) / (p["xr"][1] - p["xr"][0]) * (xdom[1] - xdom[0])
    y_zero = ydom[0] + (0 - yr[0]) / (yr[1] - yr[0]) * (ydom[1] - ydom[0])

    is_g = p["xr"][0] > -3
    layout[xa] = dict(domain=xdom, range=list(p["xr"]), anchor="free", position=y_zero,
                      tickvals=p["xt"], tickformat=".1f" if is_g else "d",
                      ticks="inside", ticklen=7, tickwidth=1.5, tickcolor="black",
                      showline=False, showgrid=False, zeroline=False, automargin=False,
                      ticklabelstandoff=17, ticklabeloverflow="allow",
                      tickfont=dict(size=TICK_SIZE, family=FONT), fixedrange=True)
    layout[ya] = dict(domain=ydom, range=list(yr), anchor="free", position=x_zero,
                      tickvals=p["yt"], ticks="inside", ticklen=7, tickwidth=1.5, tickcolor="black",
                      showline=False, showgrid=False, zeroline=False, automargin=False,
                      ticklabelstandoff=18, ticklabeloverflow="allow",
                      tickfont=dict(size=TICK_SIZE, family=FONT), fixedrange=True)

    # axis lines through the origin
    shapes.append(dict(type="line", xref=xs, yref=ys, x0=t0, x1=t1, y0=0, y1=0,
                       line=dict(color="black", width=2)))
    shapes.append(dict(type="line", xref=xs, yref=ys, x0=0, x1=0, y0=yr[0], y1=yr[1],
                       line=dict(color="black", width=2)))

    # hysteresis curve
    cx, cy = [], []
    for br in p["curve"]:
        for (x, y) in br:
            cx.append(x)
            cy.append(y)
        cx.append(None)
        cy.append(None)
    fig.add_trace(go.Scatter(x=cx, y=cy, mode="lines", xaxis=xs, yaxis=ys,
                             line=dict(color="black", width=0.9, shape="spline", smoothing=0.8),
                             hoverinfo="skip", connectgaps=False))

    # strength level lines
    for k, (name, vpos, vneg) in enumerate(p["levels"]):
        col = LEVEL_COLORS[name]
        lw = LEVEL_WIDTHS[name]
        fig.add_trace(go.Scatter(x=[0, p["pos_end"][k]], y=[vpos, vpos], mode="lines",
                                 xaxis=xs, yaxis=ys, line=dict(color=col, width=lw), hoverinfo="skip"))
        fig.add_trace(go.Scatter(x=[p["neg_end"], 0], y=[vneg, vneg], mode="lines",
                                 xaxis=xs, yaxis=ys, line=dict(color=col, width=lw), hoverinfo="skip"))
        lx, ly = px2paper(*p["lvl_lab"][k])
        annotations.append(dict(xref="paper", yref="paper", x=lx, y=ly, text=name, showarrow=False,
                                xanchor="left", yanchor="middle", font=dict(size=TICK_SIZE, family=FONT)))

    # maximum points
    fig.add_trace(go.Scatter(x=[d[0] for d in p["dots"]], y=[d[1] for d in p["dots"]], mode="markers",
                             xaxis=xs, yaxis=ys, cliponaxis=False,
                             marker=dict(color="#ff0000", size=10, line=dict(color="#7a0000", width=0.8)),
                             hoverinfo="skip"))

    # labels
    qx, qy = px2paper(*p["qlab"])
    annotations.append(dict(xref="paper", yref="paper", x=qx, y=qy, text="cQ(kN)", showarrow=False,
                            xanchor="right", yanchor="middle", font=dict(size=TICK_SIZE, family=FONT)))
    ax_, ay_ = px2paper(*p["xlab_pos"])
    annotations.append(dict(xref="paper", yref="paper", x=ax_, y=ay_, text=p["xlab"], showarrow=False,
                            xanchor="center", yanchor="middle", font=dict(size=TICK_SIZE, family=FONT)))

    # green label box
    bx0, by0, bx1, by1 = p["box"]
    (px0, py1), (px1, py0) = px2paper(bx0, by0), px2paper(bx1, by1)
    shapes.append(dict(type="rect", xref="paper", yref="paper", x0=px0, x1=px1,
                       y0=py0, y1=py1, line=dict(color="#008000", width=2),
                       fillcolor="white", layer="above"))
    tx, ty = px2paper(*p["box_text"])
    annotations.append(dict(xref="paper", yref="paper", x=tx, y=ty,
                            text=SPECIMENS[i - 1] + "<br>" + p["sub"], showarrow=False,
                            xanchor="left", yanchor="middle", align="left",
                            font=dict(size=21, family=FONT, color="black")))

layout["shapes"] = shapes
layout["annotations"] = annotations
fig.update_layout(**layout)
fig.write_html("out.html", config={"displayModeBar": False, "staticPlot": True},
               post_script="document.body.style.margin='0';")
